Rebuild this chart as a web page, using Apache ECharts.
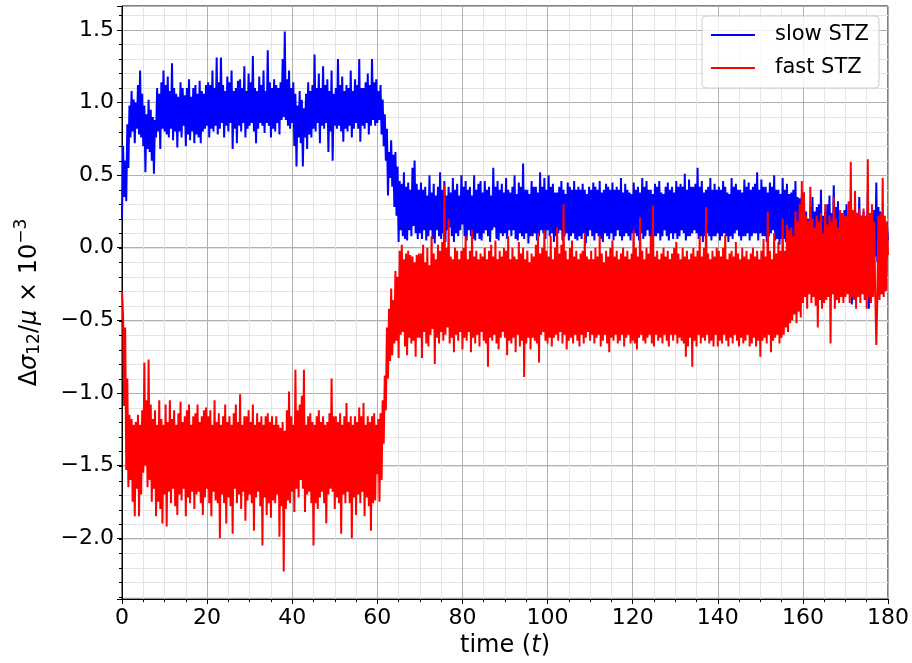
<!DOCTYPE html>
<html><head><meta charset="utf-8">
<script src="https://cdn.jsdelivr.net/npm/echarts@6/dist/echarts.min.js"></script>
<style>html,body{margin:0;padding:0;background:#fff}#c{width:912px;height:663px}</style>
</head><body><div id="c"></div>
<script>
// time step within each 10-unit block
const dt = 0.25;
// slow STZ: one array per 10 time units, starting at t = 0, 10, 20, ...
const slow0 = [0.20,0.70,0.35,0.60,0.32,0.85,0.55,0.98, 0.76,1.08,0.80,1.02,0.72,1.00,0.82,1.12, 0.78,1.22,0.76,1.06, 0.70,0.98,0.52,0.92,0.68,1.02,0.66,0.95,0.60,0.90,0.51,0.88, 0.76,1.10,0.80,1.06,0.68,1.14,0.82,1.22];
const slow10 = [0.80,1.12,0.78,1.18,0.76,1.08,0.82,1.27, 0.74,1.10,0.80,1.06, 0.69,1.04,0.80,1.14, 0.76,1.10,0.84,1.05, 0.70,1.10,0.78,1.16, 0.74,1.04,0.80,1.10, 0.72,1.12,0.78,1.06, 0.76,1.15,0.72,1.08, 0.80,1.06,0.82,1.12];
const slow20 = [0.84,1.14,0.76,1.12,0.82,1.22,0.80,1.10, 0.84,1.31,0.78,1.14, 0.82,1.31,0.86,1.12, 0.76,1.08,0.84,1.18, 0.80,1.14,0.86,1.22, 0.68,1.08,0.82,1.10, 0.72,1.15,0.84,1.16, 0.80,1.10,0.86,1.25, 0.76,1.08,0.82,1.20];
const slow30 = [0.84,1.14,0.86,1.32, 0.80,1.10,0.72,1.08, 0.82,1.18,0.86,1.12, 0.84,1.22,0.79,1.08, 0.86,1.36,0.84,1.14, 0.76,1.10,0.82,1.16, 0.80,1.12,0.86,1.10, 0.78,1.14,0.88,1.30, 0.90,1.49,0.88,1.16, 0.84,1.22,0.82,1.10];
const slow40 = [0.86,1.14,0.70,1.06, 0.56,0.98,0.76,1.08, 0.72,1.02,0.56,0.96, 0.76,1.06,0.68,1.14, 0.78,1.08,0.76,1.12, 0.82,1.33,0.80,1.10, 0.86,1.20,0.72,1.10, 0.84,1.25,0.82,1.12, 0.86,1.16,0.66,1.08, 0.80,1.22,0.60,1.06];
const slow50 = [0.84,1.10,0.82,1.30, 0.84,1.12,0.80,1.18, 0.73,1.08,0.82,1.12, 0.80,1.10,0.84,1.22, 0.76,1.08,0.82,1.16, 0.86,1.12,0.82,1.30, 0.73,1.10,0.84,1.10, 0.82,1.14,0.86,1.20, 0.78,1.12,0.84,1.30, 0.88,1.14,0.84,1.16];
const slow60 = [0.86,1.08,0.88,1.12, 0.78,1.02,0.70,0.92, 0.60,0.82,0.36,0.66, 0.48,0.74,0.42,0.64, 0.28,0.66,0.22,0.56, 0.04,0.46,0.12,0.44, 0.08,0.52,0.06,0.42, 0.05,0.45,0.12,0.40, 0.08,0.55,0.15,0.60, 0.10,0.44,0.06,0.40];
const slow70 = [0.10,0.45,0.06,0.40,0.12,0.42,0.05,0.36, 0.08,0.50,0.12,0.38, 0.06,0.44,0.03,0.36, 0.12,0.42,0.08,0.52, 0.06,0.40,0.10,0.46, 0.04,0.36,0.12,0.42, 0.14,0.38,0.08,0.48, 0.04,0.40,0.10,0.44, 0.08,0.36,0.12,0.50];
const slow80 = [0.16,0.42,0.08,0.46, 0.05,0.40,0.12,0.42, 0.08,0.36,0.06,0.50, 0.05,0.40,0.10,0.44, 0.06,0.46,0.05,0.38, 0.10,0.46,0.12,0.40, 0.08,0.42,0.04,0.36, 0.12,0.55,0.14,0.42, 0.06,0.46,0.05,0.40, 0.10,0.44,0.08,0.38];
const slow90 = [0.10,0.48,0.06,0.40, 0.12,0.38,0.08,0.42, 0.12,0.50,0.06,0.37, 0.05,0.45,0.10,0.42, 0.08,0.58,0.06,0.40, 0.10,0.40,0.03,0.37, 0.08,0.46,0.08,0.42, 0.10,0.42,0.05,0.38, 0.08,0.52,0.12,0.42, 0.10,0.48,0.06,0.40];
const slow100 = [0.12,0.50,0.08,0.42, 0.10,0.44,0.04,0.38, 0.08,0.38,0.10,0.42, 0.12,0.46,0.05,0.40, 0.08,0.37,0.10,0.45, 0.05,0.42,0.08,0.40, 0.10,0.46,0.06,0.40, 0.05,0.42,0.08,0.40, 0.06,0.44,0.10,0.40, 0.03,0.37,0.08,0.42];
const slow110 = [0.12,0.40,0.08,0.45, 0.05,0.42,0.10,0.40, 0.08,0.46,0.06,0.38, 0.04,0.40,0.10,0.44, 0.08,0.42,0.06,0.40, 0.10,0.45,0.05,0.40, 0.08,0.42,0.12,0.40, 0.08,0.48,0.05,0.38, 0.08,0.44,0.10,0.40, 0.08,0.38,0.05,0.37];
const slow120 = [0.10,0.45,0.10,0.40, 0.08,0.42,0.05,0.38, 0.10,0.48,0.06,0.42, 0.08,0.46,0.12,0.40, 0.08,0.40,0.04,0.37, 0.08,0.44,0.08,0.42, 0.10,0.46,0.05,0.38, 0.08,0.37,0.12,0.42, 0.08,0.45,0.05,0.40, 0.10,0.42,0.06,0.38];
const slow130 = [0.10,0.46,0.06,0.42, 0.08,0.44,0.12,0.42, 0.10,0.51,0.05,0.40, 0.08,0.47,0.08,0.42, 0.10,0.42,0.12,0.44, 0.10,0.55,0.06,0.42, 0.08,0.46,0.04,0.38, 0.08,0.40,0.10,0.42, 0.08,0.48,0.05,0.40, 0.08,0.44,0.08,0.40];
const slow140 = [0.10,0.42,0.05,0.40, 0.08,0.46,0.10,0.42, 0.08,0.38,0.04,0.37, 0.08,0.48,0.06,0.42, 0.10,0.44,0.12,0.40, 0.08,0.40,0.05,0.38, 0.08,0.47,0.08,0.42, 0.10,0.45,0.05,0.40, 0.08,0.42,0.10,0.44, 0.10,0.52,0.05,0.40];
const slow150 = [0.10,0.47,0.08,0.42, 0.08,0.42,0.04,0.38, 0.08,0.45,0.10,0.42, 0.12,0.50,0.05,0.40, 0.06,0.40,0.02,0.37, 0.06,0.48,0.06,0.40, 0.04,0.44,-0.02,0.37, 0.04,0.38,0.05,0.40, 0.02,0.46,-0.05,0.35, 0.00,0.34,0.02,0.36];
const slow160 = [-0.05,0.38,-0.31,0.25, -0.10,0.20,-0.08,0.28, -0.12,0.35,-0.18,0.25, -0.06,0.28,-0.10,0.30, -0.04,0.40,-0.22,0.22, -0.08,0.25,-0.05,0.30, -0.10,0.36,-0.15,0.24, -0.06,0.43,-0.04,0.28, -0.10,0.32,-0.20,0.24, -0.08,0.22,-0.12,0.26];
const slow170 = [-0.10,0.30,-0.25,0.22, -0.08,0.15,-0.39,0.20, -0.12,0.28,-0.10,0.24, -0.06,0.35,-0.20,0.22, -0.10,0.25,-0.30,0.20, -0.08,0.38,-0.42,0.20, -0.10,0.24,-0.15,0.26, -0.06,0.45,-0.10,0.28, -0.12,0.25,-0.32,0.20, -0.10,0.18,-0.28,0.15, 0.05];
// fast STZ
const fast0 = [-0.30,-0.46,-1.09,-0.55,-1.53,-0.90,-1.65,-1.15, -1.60,-1.18,-1.75,-1.22,-1.85,-1.20,-1.66,-1.15, -1.85,-1.22,-1.70,-1.12, -1.55,-0.79,-1.50,-1.05,-1.65,-0.77,-1.60,-1.08,-1.75,-1.18,-1.66,-1.12, -1.85,-1.22,-1.75,-1.05,-1.80,-1.18,-1.90,-1.22];
const fast10 = [-1.70,-1.08,-1.92,-1.20, -1.68,-1.05,-1.76,-1.18, -1.66,-1.12,-1.78,-1.22, -1.84,-1.14,-1.70,-1.06, -1.74,-1.20,-1.66,-1.16, -1.85,-1.12,-1.72,-1.08, -1.76,-1.22,-1.68,-1.16, -1.80,-1.14,-1.70,-1.08, -1.68,-1.20,-1.76,-1.16, -1.84,-1.12,-1.72,-1.10];
const fast20 = [-1.66,-1.16,-1.76,-1.12, -1.85,-1.22,-1.68,-1.05, -1.74,-1.20,-1.76,-1.14, -2.00,-1.22,-1.70,-1.16, -1.76,-1.08,-1.90,-1.20, -1.72,-1.16,-1.78,-1.22, -1.97,-1.14,-1.66,-1.08, -1.76,-1.20,-1.70,-1.01, -1.80,-1.22,-1.68,-1.16, -1.88,-1.16,-1.74,-1.12];
const fast30 = [-1.70,-1.20,-1.76,-1.08, -1.95,-1.22,-1.72,-1.14, -1.68,-1.20,-1.78,-1.16, -2.05,-1.22,-1.72,-1.16, -1.84,-1.14,-1.76,-1.20, -1.86,-1.16,-1.74,-1.22, -1.76,-1.16,-1.70,-1.22, -1.99,-1.24,-1.78,-1.20, -2.23,-1.26,-1.80,-1.12, -1.74,-0.99,-1.76,-1.16];
const fast40 = [-1.68,-1.22,-1.82,-0.84, -1.66,-1.12,-1.72,-1.08, -1.60,-1.02,-1.66,-0.84, -1.82,-1.22,-1.70,-1.16, -1.68,-1.14,-1.76,-1.20, -2.05,-1.22,-1.76,-1.16, -1.80,-1.12,-1.72,-1.20, -1.68,-1.16,-1.76,-1.22, -1.90,-1.20,-1.70,-1.14, -1.66,-0.90,-1.68,-1.16];
const fast50 = [-1.80,-1.16,-1.72,-1.20, -1.76,-1.14,-1.97,-1.22, -1.70,-1.16,-1.76,-1.07, -1.68,-1.20,-1.76,-1.16, -2.00,-1.22,-1.72,-1.16, -1.84,-1.20,-1.70,-1.10, -1.76,-1.16,-1.68,-1.07, -1.85,-1.22,-1.72,-1.16, -1.78,-1.20,-1.95,-1.16, -1.76,-1.14,-1.74,-1.22];
const fast60 = [-1.56,-1.18,-1.75,-1.14, -1.60,-1.05,-1.35,-0.88, -1.12,-0.55,-0.90,-0.42, -0.78,-0.28,-0.74,-0.36, -0.66,-0.16,-0.64,-0.20, -0.76,-0.02,-0.60,0.02, -0.58,-0.08,-0.68,-0.04, -0.74,-0.02,-0.62,-0.05, -0.66,-0.06,-0.64,-0.10, -0.75,-0.05,-0.62,-0.04];
const fast70 = [-0.62,-0.04,-0.76,0.02, -0.58,-0.10,-0.66,0.00, -0.68,-0.12,-0.60,0.08, -0.56,-0.04,-0.80,-0.08, -0.62,0.02,-0.66,-0.02, -0.58,0.04,-0.64,0.43, -0.60,0.00,-0.55,0.20, -0.66,-0.06,-0.62,-0.08, -0.72,0.00,-0.60,-0.02, -0.64,-0.08,-0.58,-0.02];
const fast80 = [-0.70,0.00,-0.62,0.08, -0.64,-0.08,-0.58,-0.02, -0.72,0.12,-0.62,-0.06, -0.66,-0.02,-0.60,-0.08, -0.68,-0.04,-0.58,-0.06, -0.64,0.00,-0.66,-0.08, -0.82,-0.02,-0.62,0.02, -0.64,-0.06,-0.60,0.05, -0.66,-0.08,-0.70,-0.02, -0.62,-0.06,-0.58,0.00];
const fast90 = [-0.62,-0.02,-0.74,0.08, -0.64,-0.08,-0.66,0.00, -0.62,-0.06,-0.72,-0.08, -0.60,0.04,-0.68,-0.04, -0.64,0.00,-0.89,-0.08, -0.66,-0.02,-0.62,-0.10, -0.70,-0.04,-0.62,-0.06, -0.64,0.02,-0.66,0.10, -0.79,-0.04,-0.60,0.00, -0.58,0.12,-0.64,-0.02];
const fast100 = [-0.66,-0.06,-0.62,0.08, -0.68,-0.08,-0.62,0.00, -0.60,0.14,-0.64,-0.04, -0.58,0.02,-0.66,0.30, -0.60,-0.02,-0.70,-0.08, -0.64,0.00,-0.62,0.05, -0.66,-0.06,-0.60,-0.02, -0.64,-0.08,-0.68,-0.04, -0.60,-0.02,-0.66,0.10, -0.62,-0.06,-0.58,-0.08];
const fast110 = [-0.64,-0.02,-0.60,-0.08, -0.66,0.00,-0.62,-0.06, -0.60,0.08,-0.68,-0.04, -0.64,-0.10,-0.60,-0.02, -0.66,-0.06,-0.72,0.00, -0.62,0.05,-0.64,-0.06, -0.60,-0.02,-0.66,-0.08, -0.64,-0.04,-0.60,0.00, -0.68,-0.06,-0.62,-0.02, -0.60,-0.08,-0.66,-0.04];
const fast120 = [-0.64,0.12,-0.66,0.00, -0.70,-0.06,-0.62,0.21, -0.60,-0.02,-0.64,-0.08, -0.66,0.00,-0.62,-0.04, -0.60,0.08,-0.66,0.29, -0.68,-0.06,-0.60,-0.02, -0.64,-0.08,-0.62,-0.04, -0.66,0.00,-0.60,-0.06, -0.64,-0.02,-0.68,-0.08, -0.60,-0.04,-0.64,0.00];
const fast130 = [-0.60,0.04,-0.66,-0.04, -0.62,-0.08,-0.64,0.00, -0.66,-0.06,-0.75,-0.02, -0.68,-0.08,-0.62,-0.04, -0.82,0.00,-0.64,-0.06, -0.68,-0.02,-0.60,0.08, -0.66,-0.06,-0.62,0.00, -0.64,0.28,-0.60,-0.04, -0.66,-0.08,-0.64,-0.02, -0.68,-0.06,-0.60,0.00];
const fast140 = [-0.68,-0.02,-0.64,-0.06, -0.66,0.00,-0.60,0.09, -0.64,-0.08,-0.68,-0.04, -0.62,-0.02,-0.66,-0.06, -0.60,0.04,-0.64,-0.04, -0.68,-0.08,-0.62,0.00, -0.66,-0.06,-0.64,-0.02, -0.60,-0.08,-0.68,-0.04, -0.66,0.00,-0.62,-0.06, -0.68,-0.02,-0.64,-0.08];
const fast150 = [-0.75,-0.02,-0.64,0.06, -0.62,-0.06,-0.66,0.25, -0.60,-0.02,-0.72,-0.08, -0.64,0.10,-0.62,-0.04, -0.60,0.04,-0.66,-0.02, -0.62,0.20,-0.60,-0.02, -0.55,0.16,-0.58,0.12, -0.52,0.14,-0.50,0.08, -0.46,0.25,-0.52,0.18, -0.44,0.30,-0.48,0.46];
const fast160 = [-0.38,0.38,-0.34,0.22, -0.42,0.18,-0.32,0.42, -0.38,0.20,-0.34,0.14, -0.40,0.22,-0.55,0.18, -0.36,0.24,-0.42,0.10, -0.38,0.30,-0.36,0.16, -0.34,0.22,-0.66,0.18, -0.32,0.35,-0.42,0.20, -0.36,0.14,-0.38,0.26, -0.34,0.24,-0.38,0.22];
const fast170 = [-0.34,0.22,-0.32,0.32, -0.38,0.59,-0.34,0.26, -0.36,0.39,-0.42,0.24, -0.34,0.27,-0.38,0.22, -0.32,0.27,-0.36,0.22, -0.42,0.61,-0.34,0.24, -0.38,0.30,-0.34,0.18, -0.30,-0.67,-0.34,0.22, -0.36,0.24,-0.32,0.48, -0.34,0.22,-0.30,0.18, -0.05];

const blockStarts = [0,10,20,30,40,50,60,70,80,90,100,110,120,130,140,150,160,170];
const seriesNames = ['slow STZ', 'fast STZ'];
const xTickValues = [0,20,40,60,80,100,120,140,160,180];
const yTickValues = [-2.0,-1.5,-1.0,-0.5,0.0,0.5,1.0,1.5];

const slowBlocks = [slow0,slow10,slow20,slow30,slow40,slow50,slow60,slow70,slow80,slow90,slow100,slow110,slow120,slow130,slow140,slow150,slow160,slow170];
const fastBlocks = [fast0,fast10,fast20,fast30,fast40,fast50,fast60,fast70,fast80,fast90,fast100,fast110,fast120,fast130,fast140,fast150,fast160,fast170];
const toPairs = blocks => blocks.flatMap((blk, k) => blk.map((v, i) => [blockStarts[k] + i * dt, v]));

const FONT = 'DejaVu Sans';
const yMin = -2.42, yMax = 1.665;
const gTop = 6, gBottom = 63, plotH = 663 - gTop - gBottom;
const ppu = plotH / (yMax - yMin);
const minorMin = -2.4, minorMax = 1.6;
const g2Bottom = gBottom + (minorMin - yMin) * ppu;
const g2Top = gTop + (yMax - minorMax) * ppu;
const fmtMinus = v => String(v).replace('-', '\u2212');

const chart = echarts.init(document.getElementById('c'), null, {renderer: 'canvas'});
chart.setOption({
  animation: false,
  backgroundColor: '#ffffff',
  textStyle: {fontFamily: FONT},
  grid: [
    {left: 122, right: 22, top: gTop, bottom: gBottom, show: true, borderColor: '#000', borderWidth: 1, backgroundColor: 'transparent'},
    {left: 122, right: 22, top: g2Top, bottom: g2Bottom, show: false}
  ],
  legend: {
    data: seriesNames,
    right: 33, top: 16, orient: 'vertical', align: 'left',
    icon: 'rect', itemWidth: 44, itemHeight: 2, itemGap: 9,
    padding: [7, 10, 8, 9],
    backgroundColor: 'rgba(255,255,255,0.8)', borderColor: '#cccccc', borderWidth: 1, borderRadius: 4,
    textStyle: {fontFamily: FONT, fontSize: 21, lineHeight: 24, color: '#000', padding: [0, 0, 0, 15]}
  },
  xAxis: [
    {
      type: 'value', gridIndex: 0, min: 0, max: 180, interval: 20, z: 1,
      axisLine: {show: true, onZero: false, lineStyle: {color: '#000', width: 1}},
      axisTick: {show: true, length: 5, lineStyle: {color: '#000', width: 1}},
      minorTick: {show: true, splitNumber: 4, length: 3, lineStyle: {color: '#000', width: 1}},
      splitLine: {show: true, lineStyle: {color: '#b0b0b0', width: 1}},
      minorSplitLine: {show: true, lineStyle: {color: '#e4e4e4', width: 1}},
      axisLabel: {fontFamily: FONT, fontSize: 22, color: '#000', margin: 8,
        formatter: v => xTickValues.indexOf(v) >= 0 ? String(v) : ''},
      name: '{a|time (}{i|t}{a|)}', nameLocation: 'middle', nameGap: 34,
      nameTextStyle: {rich: {
        a: {fontFamily: FONT, fontSize: 24, color: '#000'},
        i: {fontFamily: FONT, fontSize: 24, fontStyle: 'italic', color: '#000'}
      }}
    },
    {type: 'value', gridIndex: 1, min: 0, max: 180, show: false}
  ],
  yAxis: [
    {
      type: 'value', gridIndex: 0, min: yMin, max: yMax, splitNumber: 8, minInterval: 0.5, maxInterval: 0.5, z: 1,
      axisLine: {show: true, onZero: false, lineStyle: {color: '#000', width: 1}},
      axisTick: {show: true, length: 5, lineStyle: {color: '#000', width: 1}},
      splitLine: {show: true, lineStyle: {color: '#b0b0b0', width: 1}},
      axisLabel: {fontFamily: FONT, fontSize: 22, color: '#000', margin: 8,
        formatter: v => {
          const hit = yTickValues.find(t => Math.abs(t - v) < 1e-6);
          return hit === undefined ? '' : fmtMinus(hit.toFixed(1));
        }},
      name: '{a|\u0394}{i|\u03c3}{sub|12}{a|/}{i|\u03bc}{a| \u00d7 10}{sup|\u22123}',
      nameLocation: 'middle', nameGap: 76, nameRotate: 90,
      nameTextStyle: {rich: {
        a: {fontFamily: FONT, fontSize: 24, color: '#000'},
        i: {fontFamily: FONT, fontSize: 24, fontStyle: 'italic', color: '#000'},
        sub: {fontFamily: FONT, fontSize: 17, color: '#000', padding: [10, 0, 0, 0]},
        sup: {fontFamily: FONT, fontSize: 17, color: '#000', padding: [0, 0, 16, 0]}
      }}
    },
    {
      type: 'value', gridIndex: 1, min: minorMin, max: minorMax, interval: 0.1, z: 0,
      axisLine: {show: false},
      axisTick: {show: true, length: 3, lineStyle: {color: '#000', width: 1}},
      axisLabel: {show: false},
      splitLine: {show: true, lineStyle: {color: '#e4e4e4', width: 1}}
    }
  ],
  series: [
    {name: seriesNames[0], type: 'line', xAxisIndex: 0, yAxisIndex: 0, data: toPairs(slowBlocks),
      showSymbol: false, symbol: 'none', color: '#0000ff', lineStyle: {color: '#0000ff', width: 2}, z: 2},
    {name: seriesNames[1], type: 'line', xAxisIndex: 0, yAxisIndex: 0, data: toPairs(fastBlocks),
      showSymbol: false, symbol: 'none', color: '#ff0000', lineStyle: {color: '#ff0000', width: 2}, z: 3}
  ]
});
</script></body></html>
